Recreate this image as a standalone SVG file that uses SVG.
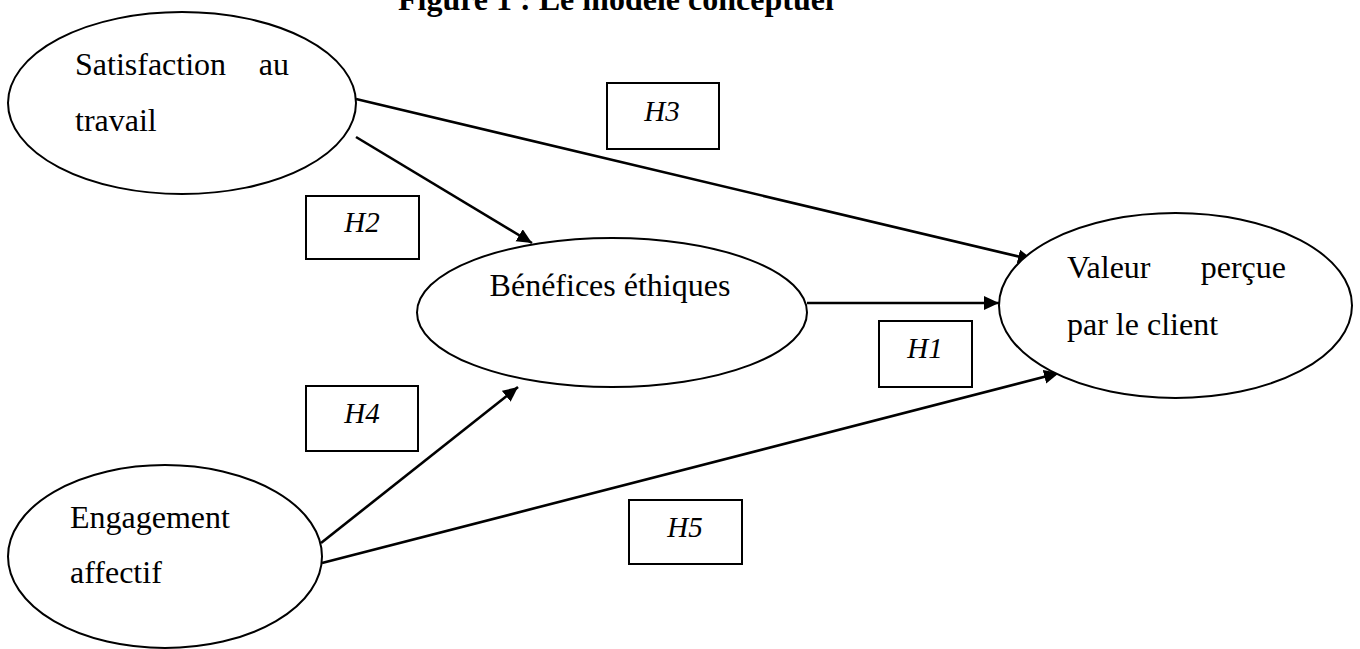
<svg xmlns="http://www.w3.org/2000/svg" width="1360" height="649" viewBox="0 0 1360 649">
<style>
.node{fill:#fff;stroke:#000;stroke-width:2}
.box{fill:#fff;stroke:#000;stroke-width:2}
.t{font-family:"Liberation Serif","Times New Roman",serif;font-size:32px;fill:#000}
.h{font-family:"Liberation Serif","Times New Roman",serif;font-size:29px;font-style:italic;fill:#000;text-anchor:middle}
.title{font-family:"Liberation Serif","Times New Roman",serif;font-size:32px;font-weight:bold;fill:#000}
.c{stroke:#000;stroke-width:2.6;fill:none;marker-end:url(#arr)}
</style>
<defs>
<marker id="arr" markerUnits="userSpaceOnUse" markerWidth="18" markerHeight="16" refX="15" refY="7" orient="auto">
<path d="M0,0 L15,7 L0,14 z" fill="#000"/>
</marker>
</defs>
<rect width="1360" height="649" fill="#fff"/>
<text class="title" x="398" y="10">Figure 1 : Le modèle conceptuel</text>
<g id="connectors">
<line class="c" x1="356" y1="99" x2="1033" y2="260"/>
<line class="c" x1="356" y1="137" x2="532" y2="243"/>
<line class="c" x1="807" y1="303" x2="999" y2="303"/>
<line class="c" x1="321" y1="543" x2="518" y2="387"/>
<line class="c" x1="322" y1="563" x2="1059" y2="373"/>
</g>
<g id="satisfaction">
<ellipse class="node" cx="182" cy="103" rx="174" ry="91"/>
<text class="t" x="75" y="75">Satisfaction</text>
<text class="t" x="289" y="75" text-anchor="end">au</text>
<text class="t" x="75" y="131">travail</text>
</g>
<g id="benefices">
<ellipse class="node" cx="612" cy="312.5" rx="195" ry="74.5"/>
<text class="t" x="610" y="296" text-anchor="middle">Bénéfices éthiques</text>
</g>
<g id="valeur">
<ellipse class="node" cx="1175.5" cy="305.5" rx="176.5" ry="92.5"/>
<text class="t" x="1067" y="278">Valeur</text>
<text class="t" x="1286" y="278" text-anchor="end">perçue</text>
<text class="t" x="1067" y="335">par le client</text>
</g>
<g id="engagement">
<ellipse class="node" cx="165" cy="556.5" rx="157" ry="91.5"/>
<text class="t" x="70" y="528">Engagement</text>
<text class="t" x="70" y="583">affectif</text>
</g>
<g id="h3">
<rect class="box" x="607" y="83" width="112" height="66"/>
<text class="h" x="662" y="121">H3</text>
</g>
<g id="h2">
<rect class="box" x="306" y="196" width="113" height="63"/>
<text class="h" x="362" y="232">H2</text>
</g>
<g id="h1">
<rect class="box" x="879" y="321" width="93" height="66"/>
<text class="h" x="925" y="358">H1</text>
</g>
<g id="h4">
<rect class="box" x="306" y="386" width="112" height="65"/>
<text class="h" x="362" y="423">H4</text>
</g>
<g id="h5">
<rect class="box" x="629" y="500" width="113" height="64"/>
<text class="h" x="685" y="537">H5</text>
</g>
</svg>
